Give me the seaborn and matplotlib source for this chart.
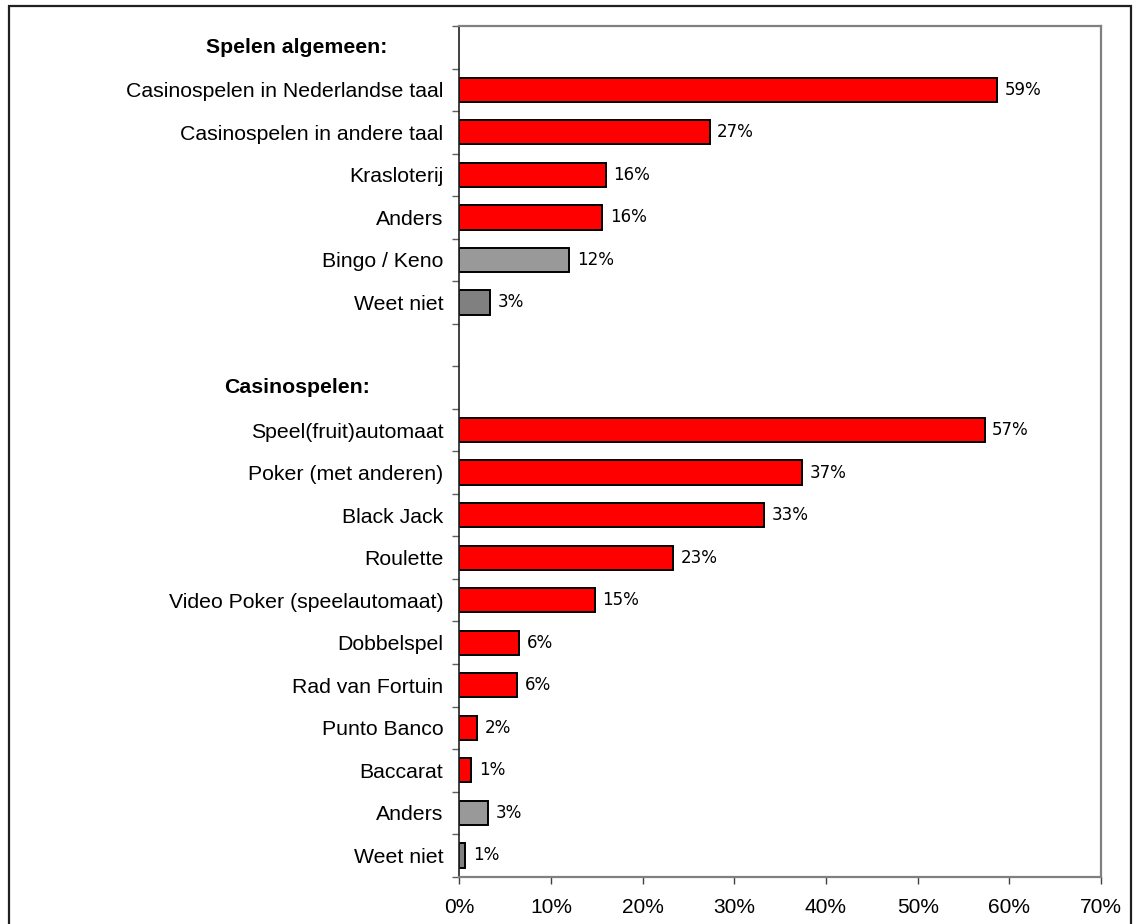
import matplotlib
matplotlib.use("Agg")
import matplotlib.pyplot as plt
from matplotlib.patches import Rectangle
from matplotlib.transforms import blended_transform_factory
from matplotlib.ticker import FuncFormatter
import numpy as np
import pandas as pd
import seaborn as sns

# --- data -------------------------------------------------------------
section_titles = ["Spelen algemeen:", "Casinospelen:"]

general_labels = [
    "Casinospelen in Nederlandse taal",
    "Casinospelen in andere taal",
    "Krasloterij",
    "Anders",
    "Bingo / Keno",
    "Weet niet",
]
general_values = [58.7, 27.3, 16.0, 15.6, 12.0, 3.4]
general_groups = ["main", "main", "main", "main", "other", "unknown"]

casino_labels = [
    "Speel(fruit)automaat",
    "Poker (met anderen)",
    "Black Jack",
    "Roulette",
    "Video Poker (speelautomaat)",
    "Dobbelspel",
    "Rad van Fortuin",
    "Punto Banco",
    "Baccarat",
    "Anders",
    "Weet niet",
]
casino_values = [57.3, 37.4, 33.2, 23.3, 14.8, 6.5, 6.3, 1.9, 1.3, 3.1, 0.65]
casino_groups = ["main"] * 9 + ["other", "unknown"]

x_ticks = [0, 10, 20, 30, 40, 50, 60, 70]

group_colors = {"main": "#FF0000", "other": "#999999", "unknown": "#808080"}

# --- row layout: header row, items, blank row, header row, items ------
rows = []
pos = 0
header_rows = []
for title, labs, vals, grps in [
    (section_titles[0], general_labels, general_values, general_groups),
    (section_titles[1], casino_labels, casino_values, casino_groups),
]:
    header_rows.append((pos, title))
    pos += 1
    for lab, val, grp in zip(labs, vals, grps):
        rows.append({"pos": pos, "label": lab, "value": val, "group": grp})
        pos += 1
    pos += 1  # spacer between sections
n_rows = pos - 1
df = pd.DataFrame(rows)

# --- figure -----------------------------------------------------------
sns.set_theme(style="white")
plt.rcParams["font.family"] = ["Liberation Sans", "DejaVu Sans"]
plt.rcParams.update({"text.color": "black", "axes.labelcolor": "black",
                     "xtick.color": "black", "ytick.color": "black"})

fig = plt.figure(figsize=(11.39, 9.24), dpi=100)
ax = fig.add_axes([459.3 / 1139, 1 - 876.7 / 924,
                   (1101 - 459.3) / 1139, (876.7 - 26) / 924])

sns.barplot(
    data=df, x="value", y="pos", hue="group", palette=group_colors,
    orient="h", native_scale=True, dodge=False, width=0.57, saturation=1,
    edgecolor="black", linewidth=1.4, legend=False, ax=ax,
)

ax.set_xlim(0, 70)
ax.set_ylim(n_rows - 0.5, -0.5)
ax.set_xlabel("")
ax.set_ylabel("")

# x axis
ax.set_xticks(x_ticks)
ax.xaxis.set_major_formatter(FuncFormatter(lambda v, _: f"{v:.0f}%"))
ax.tick_params(axis="x", which="major", direction="out", length=5,
               width=1, color="#404040", labelsize=15, pad=10,
               bottom=True, labelcolor="black")

# y axis: tick marks at row boundaries, labels at row centres
ax.set_yticks(np.arange(-0.5, n_rows, 1.0))
ax.set_yticklabels([])
ax.tick_params(axis="y", which="major", direction="out", length=5,
               width=1, color="#606060", left=True)
ax.set_yticks(df["pos"].to_numpy(), minor=True)
ax.set_yticklabels(df["label"].tolist(), minor=True)
ax.tick_params(axis="y", which="minor", length=0, labelsize=15.3, pad=11.5,
               labelcolor="black")

header_tf = blended_transform_factory(fig.transFigure, ax.transData)
for p, title in header_rows:
    ax.text(297 / 1139, p, title, transform=header_tf, ha="center",
            va="center", fontsize=15.3, fontweight="bold", color="black")

# value labels
for _, r in df.iterrows():
    ax.annotate(f"{r['value']:.0f}%", xy=(r["value"], r["pos"]),
                xytext=(5.5, 0), textcoords="offset points",
                ha="left", va="center", fontsize=13.3, fontstretch="condensed",
                family=["Liberation Sans Narrow", "DejaVu Sans"],
                color="black")

# frame
for side in ["top", "right", "bottom"]:
    ax.spines[side].set_visible(True)
    ax.spines[side].set_color("#808080")
    ax.spines[side].set_linewidth(1.6)
ax.spines["left"].set_color("#202020")
ax.spines["left"].set_linewidth(1.2)

# outer border of the chart
fig.patches.append(Rectangle((9 / 1139, -0.02), (1131 - 9) / 1139,
                             1 - 5.5 / 924 + 0.02, transform=fig.transFigure,
                             fill=False, edgecolor="#202020", linewidth=1.6))

fig.savefig("out.png", dpi=100)
